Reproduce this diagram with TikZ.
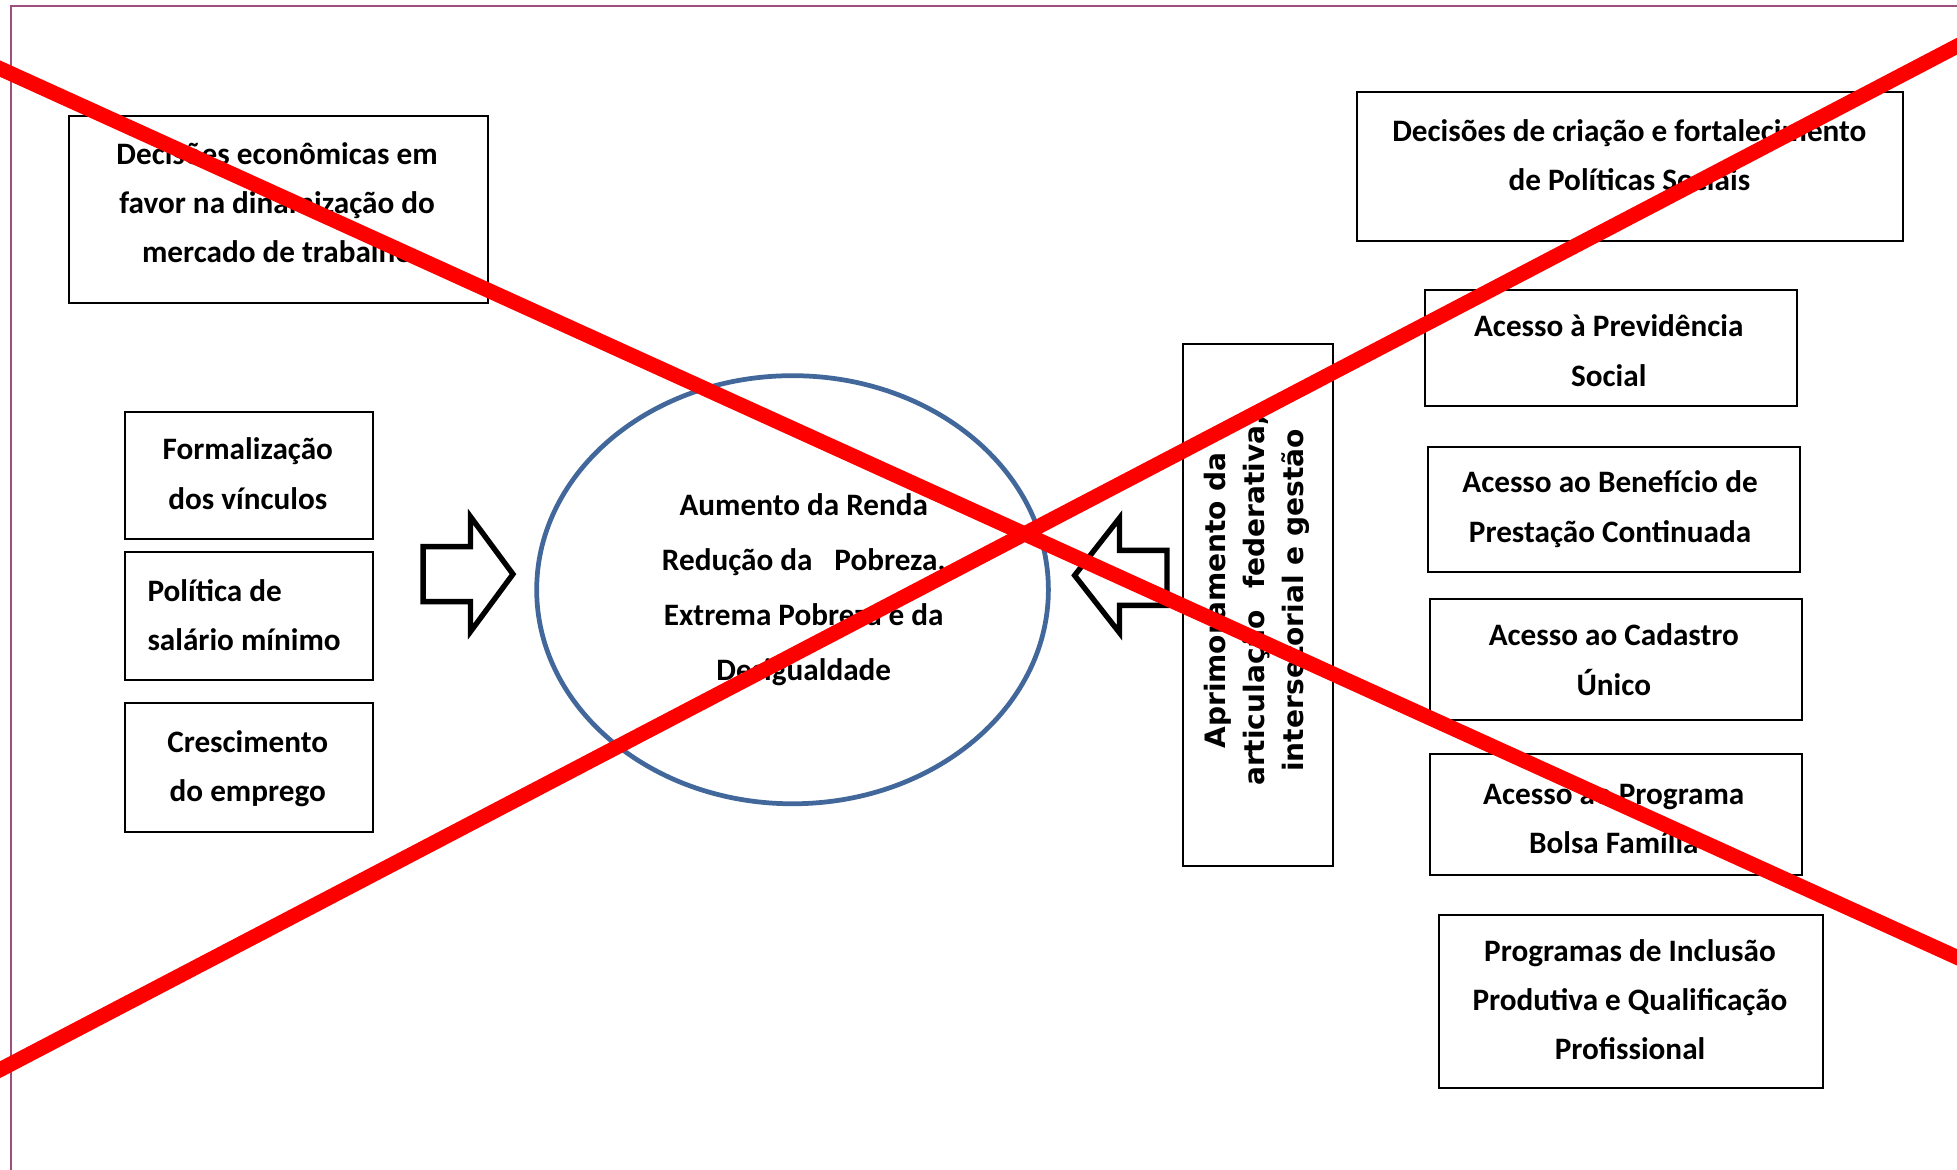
\documentclass[tikz,border=0pt]{standalone}
\usepackage{fontspec}
\setmainfont{Carlito}
\newfontfamily\vfont{DejaVu Sans}
\usetikzlibrary{shapes.geometric,fit}
\definecolor{frameC}{HTML}{9E4F7E}
\definecolor{ellC}{HTML}{41679B}
\definecolor{xred}{HTML}{FF0000}
\begin{document}
\begin{tikzpicture}[x=1pt,y=-1pt,
  frame/.style={draw=black, line width=1.6pt, inner sep=0pt},
  txt/.style={inner sep=0pt, align=center, font=\bfseries\fontsize{25}{39.5}\selectfont},
  txtl/.style={txt, align=left},
  vtxt/.style={inner sep=0pt, align=center, rotate=90, font=\vfont\bfseries\fontsize{22.5}{31.5}\selectfont},
  blockarrow/.style={draw=black, line width=4.3pt, miter limit=10, fill=white},
  cross/.style={draw=xred, line width=12pt}]
\useasboundingbox (0,0) rectangle (1568,937);
\fill[white] (0,0) rectangle (1568,937);
\draw[frameC, line width=1.6pt] (9,940) -- (9,5) -- (1570,5);

% left boxes
\node[frame, fit={(55,93) (391,243)}] (b1) {};
\node[txt] (b1t) at (222,162.5) {Decisões econômicas em\\favor na dinamização do\\mercado de trabalho};
\node[frame, fit={(100,330) (299,432)}] (f1) {};
\node[txt] (f1t) at (198.5,379.5) {Formalização\\dos vínculos};
\node[frame, fit={(100,442) (299,545)}] (f2) {};
\node[txtl, anchor=west] (f2t) at (118,493) {Política de\\salário mínimo};
\node[frame, fit={(100,563) (299,667)}] (f3) {};
\node[txt] (f3t) at (198.5,616) {Crescimento\\do emprego};

% centre
\node[draw=ellC, line width=3.8pt, ellipse, minimum width=410pt, minimum height=343pt, inner sep=0pt] (goal) at (635,472.5) {};
\node[txt, font=\bfseries\fontsize{25}{44}\selectfont] (goalt) at (644,472.5) {Aumento da Renda\\Redução da\hspace{0.7em}Pobreza,\\Extrema Pobreza e da\\Desigualdade};

% block arrows
\draw[blockarrow] (339,438) -- (377,438) -- (377,414) -- (411,460) -- (377,506) -- (377,482) -- (339,482) -- cycle;
\draw[blockarrow] (935,441) -- (897,441) -- (897,415) -- (861,461) -- (897,507) -- (897,485) -- (935,485) -- cycle;

% vertical box
\node[frame, fit={(948,276) (1068,694)}] (v) {};
\node[vtxt] (vt) at (1007,481) {Aprimoramento da\\articulação\hspace{0.4em} federativa,\\intersetorial e gestão};

% right boxes
\node[frame, fit={(1087,74) (1525,193)}] (r0) {};
\node[txt] (r0t) at (1305.5,124.5) {Decisões de criação e fortalecimento\\de Políticas Sociais};
\node[frame, fit={(1142,232) (1440,325)}] (p1) {};
\node[txt] (p1t) at (1289,281) {Acesso à Previdência\\Social};
\node[frame, fit={(1144,358) (1442,458)}] (p2) {};
\node[txt] (p2t) at (1290,408) {Acesso ao Benefício de\\Prestação Continuada};
\node[frame, fit={(1146,480) (1444,577)}] (p3) {};
\node[txt] (p3t) at (1293,528.5) {Acesso ao Cadastro\\Único};
\node[frame, fit={(1146,604) (1444,701)}] (p4) {};
\node[txt] (p4t) at (1293,656) {Acesso ao Programa\\Bolsa Família};
\node[frame, fit={(1153,733) (1461,872)}] (p5) {};
\node[txt] (p5t) at (1306,801) {Programas de Inclusão\\Produtiva e Qualificação\\Profissional};

% red cross
\coordinate (xa1) at (-20,45.9);
\coordinate (xa2) at (1590,777);
\coordinate (xb1) at (-20,867.5);
\coordinate (xb2) at (1590,25.5);
\draw[cross] (xa1) -- (xa2);
\draw[cross] (xb1) -- (xb2);
\end{tikzpicture}
\end{document}
